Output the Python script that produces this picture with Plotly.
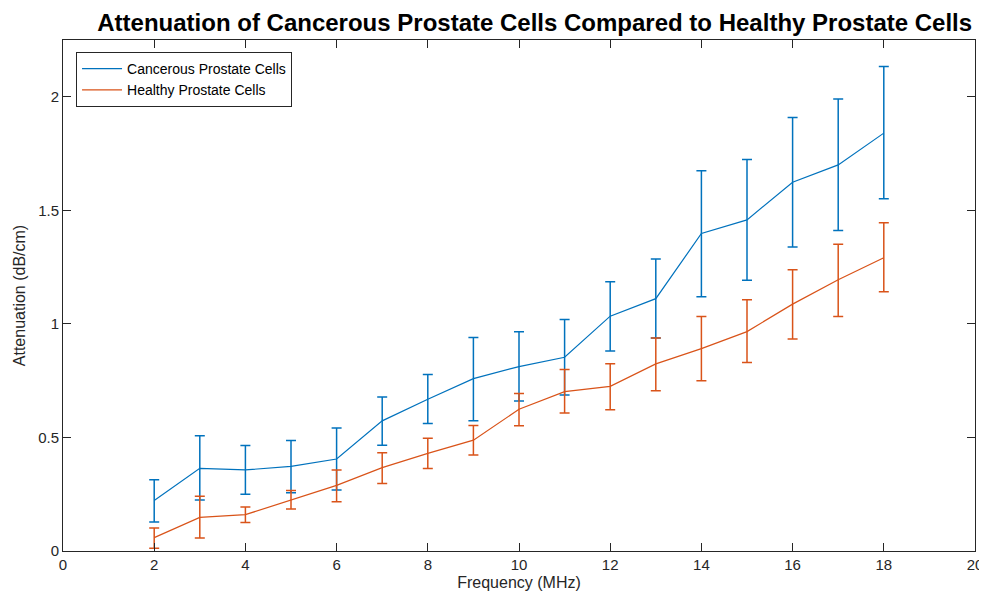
import plotly.graph_objects as go

freq = [2, 3, 4, 5, 6, 7, 8, 9, 10, 11, 12, 13, 14, 15, 16, 17, 18]

cancer_mean = [0.222, 0.364, 0.357, 0.373, 0.405, 0.573, 0.668, 0.759, 0.812, 0.853,
               1.034, 1.111, 1.398, 1.458, 1.624, 1.700, 1.840]
cancer_upper = [0.314, 0.507, 0.464, 0.486, 0.542, 0.678, 0.777, 0.940, 0.965, 1.019,
                1.186, 1.286, 1.674, 1.724, 1.909, 1.990, 2.133]
cancer_lower = [0.128, 0.225, 0.250, 0.257, 0.269, 0.466, 0.561, 0.574, 0.661, 0.687,
                0.881, 0.938, 1.120, 1.192, 1.339, 1.411, 1.551]

healthy_mean = [0.059, 0.148, 0.160, 0.225, 0.289, 0.367, 0.430, 0.488, 0.624, 0.702,
                0.725, 0.824, 0.891, 0.966, 1.087, 1.194, 1.291]
healthy_upper = [0.101, 0.241, 0.194, 0.266, 0.357, 0.433, 0.496, 0.553, 0.693, 0.799,
                 0.825, 0.938, 1.032, 1.106, 1.238, 1.351, 1.445]
healthy_lower = [0.012, 0.057, 0.125, 0.185, 0.217, 0.297, 0.363, 0.423, 0.552, 0.608,
                 0.622, 0.706, 0.750, 0.830, 0.934, 1.032, 1.142]

x_ticks = [0, 2, 4, 6, 8, 10, 12, 14, 16, 18, 20]
y_ticks = [0, 0.5, 1, 1.5, 2]

BLUE = "#0072BD"
ORANGE = "#D95319"
FONT = "Liberation Sans, Arial"


def err(mean, up, lo):
    plus = [u - m for u, m in zip(up, mean)]
    minus = [m - l for m, l in zip(mean, lo)]
    return plus, minus


fig = go.Figure()
for name, mean, up, lo, col in [
    ("Cancerous Prostate Cells", cancer_mean, cancer_upper, cancer_lower, BLUE),
    ("Healthy Prostate Cells", healthy_mean, healthy_upper, healthy_lower, ORANGE),
]:
    plus, minus = err(mean, up, lo)
    fig.add_trace(go.Scatter(
        x=freq, y=mean, name=name, mode="lines",
        line=dict(color=col, width=1.2),
        error_y=dict(type="data", symmetric=False, array=plus, arrayminus=minus,
                     color=col, thickness=1.5, width=5),
    ))

axis_common = dict(
    showgrid=False, zeroline=False, showline=True, mirror="ticks",
    linecolor="#262626", linewidth=1, ticks="inside", ticklen=8,
    tickcolor="#262626", automargin=False,
    tickfont=dict(family=FONT, size=15, color="#262626"),
)

# page body adds an ~8px offset, so the figure is sized to the visible area
fig.update_layout(
    width=979, height=593,
    margin=dict(l=55, r=12, t=32, b=50),
    paper_bgcolor="white", plot_bgcolor="white",
    title=dict(text="<b>Attenuation of Cancerous Prostate Cells Compared to Healthy Prostate Cells</b>",
               x=0.538, xanchor="center", y=0.976, yanchor="middle",
               font=dict(family=FONT, size=24, color="black")),
    xaxis=dict(range=[0, 20], tickvals=x_ticks,
               title=dict(text="Frequency (MHz)", standoff=4,
                          font=dict(family=FONT, size=16, color="#262626")),
               **axis_common),
    yaxis=dict(range=[0, 2.25], tickvals=y_ticks,
               title=dict(text="Attenuation (dB/cm)", standoff=8,
                          font=dict(family=FONT, size=16, color="#262626")),
               **axis_common),
    legend=dict(x=0.0143, y=0.9765, xanchor="left", yanchor="top",
                bgcolor="white", bordercolor="#262626", borderwidth=1,
                font=dict(family=FONT, size=14, color="black"),
                tracegroupgap=0, itemwidth=40),
    showlegend=True,
)

fig.write_html("out.html")
